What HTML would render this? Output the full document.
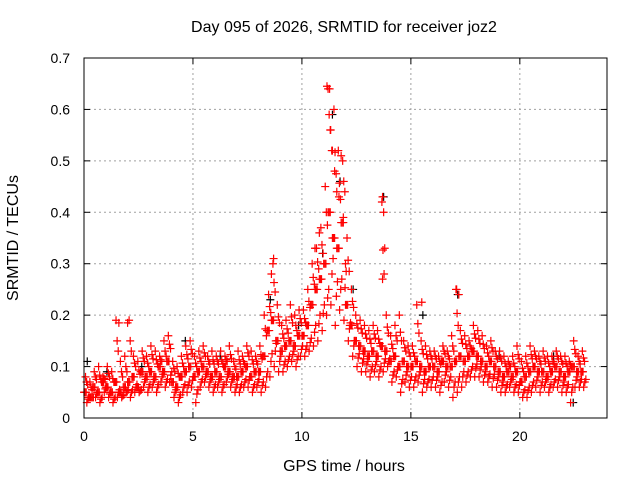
<!DOCTYPE html>
<html><head><meta charset="utf-8"><style>
body{margin:0;background:#fff}
svg{display:block;font-family:"Liberation Sans",sans-serif}
</style></head><body>
<svg id="chart" width="640" height="480" viewBox="0 0 640 480">
<rect width="640" height="480" fill="#fff"/>
<text x="344" y="32" font-size="16" text-anchor="middle">Day 095 of 2026, SRMTID for receiver joz2</text>
<text x="344" y="471" font-size="16" text-anchor="middle">GPS time / hours</text>
<text x="18" y="238" font-size="16" text-anchor="middle" transform="rotate(-90 18 238)">SRMTID / TECUs</text>
<g id="grid"></g>
<g id="ticks"></g>
<g id="marks"></g>
<rect x="84" y="58" width="523" height="360" fill="none" stroke="#000"/>
</svg>
<script>
const xTicks=[0,5,10,15,20];
const yTicks=[0,0.1,0.2,0.3,0.4,0.5,0.6,0.7];
const yTickLabels=["0","0.1","0.2","0.3","0.4","0.5","0.6","0.7"];
const times=[0,0.2,0.4,0.6,0.8,1,1.2,1.4,1.6,1.8,2,2.2,2.4,2.6,2.8,3,3.2,3.4,3.6,3.8,4,4.2,4.4,4.6,4.8,5,5.2,5.4,5.6,5.8,6,6.2,6.4,6.6,6.8,7,7.2,7.4,7.6,7.8,8,8.2,8.4,8.6,8.8,9,9.2,9.4,9.6,9.8,10,10.2,10.4,10.6,10.8,11,11.2,11.4,11.6,11.8,12,12.2,12.4,12.6,12.8,13,13.2,13.4,13.6,13.8,14,14.2,14.4,14.6,14.8,15,15.2,15.4,15.6,15.8,16,16.2,16.4,16.6,16.8,17,17.2,17.4,17.6,17.8,18,18.2,18.4,18.6,18.8,19,19.2,19.4,19.6,19.8,20,20.2,20.4,20.6,20.8,21,21.2,21.4,21.6,21.8,22,22.2,22.4,22.6,22.8];
const seriesA=[.05,.04,.06,.05,.07,.06,.05,.07,.05,.06,.07,.08,.06,.09,.08,.09,.08,.10,.09,.11,.07,.06,.08,.09,.10,.08,.09,.10,.09,.08,.09,.08,.10,.09,.08,.08,.09,.10,.08,.09,.09,.12,.17,.19,.15,.13,.14,.15,.14,.16,.16,.18,.22,.25,.27,.30,.40,.35,.33,.38,.22,.18,.15,.14,.13,.12,.13,.12,.14,.13,.11,.12,.10,.11,.10,.10,.11,.10,.09,.10,.10,.09,.11,.10,.10,.11,.12,.11,.12,.13,.12,.11,.10,.11,.10,.09,.08,.09,.08,.09,.07,.08,.09,.10,.09,.09,.08,.09,.10,.09,.08,.09,.10,.09,.09];
const seriesB=[.08,.07,.09,.10,.08,.10,.09,.19,.11,.12,.19,.12,.11,.13,.12,.14,.13,.12,.15,.16,.11,.10,.12,.14,.15,.12,.13,.14,.12,.13,.12,.13,.12,.14,.11,.13,.12,.14,.13,.12,.14,.20,.24,.30,.22,.18,.19,.22,.20,.21,.21,.25,.30,.33,.37,.45,.64,.60,.52,.50,.35,.25,.20,.19,.18,.17,.18,.17,.42,.20,.16,.18,.20,.15,.14,.14,.22,.15,.14,.13,.13,.12,.14,.13,.16,.25,.17,.16,.15,.18,.17,.16,.14,.15,.13,.13,.12,.11,.12,.14,.11,.12,.14,.13,.12,.13,.12,.12,.13,.12,.12,.11,.15,.12,.13];
const seriesC=[.03,.04,.04,.03,.05,.04,.03,.04,.04,.05,.04,.05,.05,.06,.05,.06,.05,.07,.06,.07,.04,.03,.05,.05,.06,.03,.06,.07,.06,.05,.06,.05,.07,.06,.05,.05,.06,.06,.05,.06,.05,.06,.08,.10,.09,.09,.10,.11,.10,.12,.12,.13,.14,.15,.17,.20,.22,.18,.21,.19,.15,.12,.10,.09,.09,.08,.09,.08,.09,.10,.07,.08,.05,.07,.06,.06,.07,.05,.06,.06,.06,.05,.07,.06,.04,.05,.06,.07,.08,.08,.08,.07,.07,.06,.06,.05,.05,.06,.05,.05,.04,.04,.05,.06,.05,.06,.05,.06,.06,.05,.05,.03,.06,.06,.06];
const spikeT=[11.15,11.2,11.25,11.3,11.4,11.5,11.6,11.7,11.8,11.9,12.0,13.7,13.75,13.8,13.7,8.6,8.7,10.6,10.8,15.5,17.1,17.2,1.6,2.0];
const spikeV=[.645,.64,.59,.56,.52,.48,.44,.43,.51,.39,.30,.43,.40,.33,.27,.28,.31,.33,.36,.225,.25,.24,.185,.185];
const blackT=[0.1,1.0,2.6,4.6,6.2,8.5,9.8,10.9,11.35,11.7,12.3,13.7,15.5,17.1,19.0,21.5,22.4];
const blackV=[.11,.09,.10,.15,.12,.23,.18,.32,.59,.46,.25,.43,.20,.24,.12,.12,.03];
const NS="http://www.w3.org/2000/svg";
const X=t=>84+t*523/24, Y=v=>418-v*360/0.7;
const grid=document.getElementById('grid'),ticks=document.getElementById('ticks'),marks=document.getElementById('marks');
function el(tag,attrs,parent){const e=document.createElementNS(NS,tag);for(const k in attrs)e.setAttribute(k,attrs[k]);parent.appendChild(e);return e;}
xTicks.forEach(t=>{
 if(t>0){const g=el('line',{x1:X(t),x2:X(t),y1:58,y2:418,stroke:'#a0a0a0','stroke-dasharray':'2,3'},grid);
 
 }
 el('line',{x1:X(t),x2:X(t),y1:418,y2:412,stroke:'#000'},ticks);
 el('line',{x1:X(t),x2:X(t),y1:58,y2:64,stroke:'#000'},ticks);
 const l=el('text',{x:X(t),y:441,'font-size':14,'text-anchor':'middle'},ticks);l.textContent=t;
 
 
});
yTicks.forEach((v,i)=>{
 if(v>0&&v<0.7){const g=el('line',{x1:84,x2:607,y1:Y(v),y2:Y(v),stroke:'#a0a0a0','stroke-dasharray':'2,3'},grid);
 
 }
 el('line',{x1:84,x2:90,y1:Y(v),y2:Y(v),stroke:'#000'},ticks);
 el('line',{x1:601,x2:607,y1:Y(v),y2:Y(v),stroke:'#000'},ticks);
 const l=el('text',{x:70,y:Y(v)+5,'font-size':14,'text-anchor':'end'},ticks);l.textContent=yTickLabels[i];
 
 
});
function cross(t,v,color,name){
 const p=el('path',{d:`M${X(t)-4},${Y(v)}h8M${X(t)},${Y(v)-4}v8`,stroke:color,'stroke-width':1.2,fill:'none'},marks);
 
 
}
blackT.forEach((t,i)=>cross(t+0.05,blackV[i],'#000','black-point'));
const offs=[0,0.07,0.13];
[seriesA,seriesB,seriesC].forEach((s,k)=>{
 times.forEach((t,i)=>{cross(t+offs[k],s[i],'#ff0000','red-point');
  cross(t+offs[k]+0.1,(s[i]+seriesA[i])/2,'#ff0000','red-point');
  cross(t+offs[k]+0.05,(2*s[i]+seriesA[i])/3,'#ff0000','red-point');});
});
spikeT.forEach((t,i)=>cross(t,spikeV[i],'#ff0000','red-spike-point'));
</script>
</body></html>
